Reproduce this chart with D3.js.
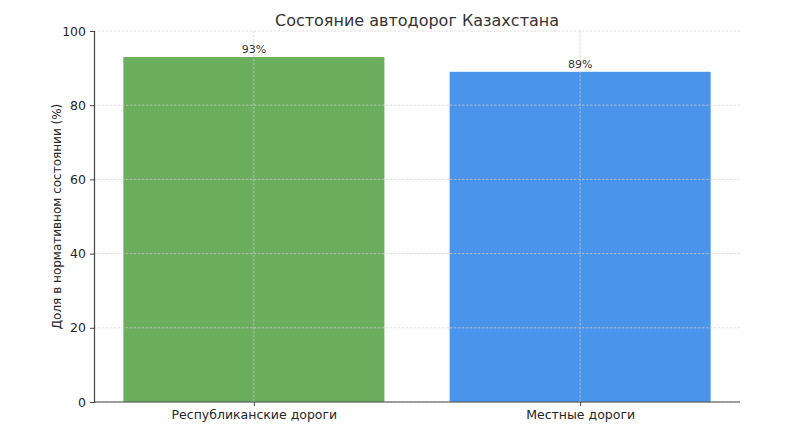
<!DOCTYPE html>
<html>
<head>
<meta charset="utf-8">
<script src="https://cdn.jsdelivr.net/npm/d3@7"></script>
<style>
  body { margin: 0; background: #fff; }
  text { font-family: "DejaVu Sans", sans-serif; }
</style>
</head>
<body>
<svg></svg>
<script>
const width = 800;
const height = 431;
const margin = {top: 31, right: 60, bottom: 29, left: 94};

const categories = ['Республиканские дороги', 'Местные дороги'];
const shares = [93, 89];
const barColors = ['#6aae5e', '#4a95eb'];
const yTicks = [0, 20, 40, 60, 80, 100];

const svg = d3.select('svg').attr('width', width).attr('height', height);
const plotW = width - margin.left - margin.right;
const plotH = height - margin.top - margin.bottom;
const g = svg.append('g').attr('transform', 'translate(' + margin.left + ',' + margin.top + ')');

// matplotlib-like: bars at integer positions, width 0.8, 5% margins
const x = d3.scaleLinear().domain([-0.49, categories.length - 1 + 0.49]).range([0, plotW]);
const y = d3.scaleLinear().domain([0, 100]).range([plotH, 0]);

g.selectAll('.bar')
  .data(shares)
  .enter().append('rect')
  .attr('class', 'bar')
  .attr('x', (d, i) => x(i - 0.4))
  .attr('width', x(0.4) - x(-0.4))
  .attr('y', d => y(d))
  .attr('height', d => plotH - y(d))
  .attr('fill', (d, i) => barColors[i]);

// grid sits above the bars
const grid = g.append('g').attr('class', 'grid');
grid.selectAll('.hgrid')
  .data(yTicks)
  .enter().append('line')
  .attr('x1', 0).attr('x2', plotW)
  .attr('y1', d => y(d)).attr('y2', d => y(d))
  .style('stroke', '#cfcfcf').style('stroke-width', 0.7).style('stroke-dasharray', '2.5,1.5');
grid.selectAll('.vgrid')
  .data(categories)
  .enter().append('line')
  .attr('x1', (d, i) => x(i)).attr('x2', (d, i) => x(i))
  .attr('y1', 0).attr('y2', plotH)
  .style('stroke', '#cfcfcf').style('stroke-width', 0.7).style('stroke-dasharray', '2.5,1.5');

g.selectAll('.val')
  .data(shares)
  .enter().append('text')
  .attr('x', (d, i) => x(i))
  .attr('y', d => y(d) - 4)
  .attr('text-anchor', 'middle')
  .style('font-size', '11px')
  .style('fill', '#333')
  .text(d => d + '%');

// axes
const yAxis = g.append('g').call(d3.axisLeft(y).tickValues(yTicks).tickSize(4).tickPadding(4));
const xAxis = g.append('g').attr('transform', 'translate(0,' + plotH + ')')
  .call(d3.axisBottom(x).tickValues(d3.range(categories.length)).tickFormat(i => categories[i]).tickSize(4).tickPadding(4));
[yAxis, xAxis].forEach(ax => {
  ax.select('.domain').style('stroke', '#444').style('stroke-width', 1.2);
  ax.selectAll('.tick line').style('stroke', '#444');
  ax.selectAll('.tick text').style('font-size', '12.5px').style('fill', '#262626').style('font-family', '"DejaVu Sans", sans-serif');
});
xAxis.select('.domain').attr('d', 'M0,0H' + plotW);

svg.append('text')
  .attr('x', margin.left + plotW / 2)
  .attr('y', 26)
  .attr('text-anchor', 'middle')
  .style('font-size', '16px')
  .style('fill', '#333')
  .text('Состояние автодорог Казахстана');

svg.append('text')
  .attr('transform', 'translate(61,' + (margin.top + plotH / 2) + ') rotate(-90)')
  .attr('text-anchor', 'middle')
  .style('font-size', '12px')
  .style('fill', '#262626')
  .text('Доля в нормативном состоянии (%)');
</script>
</body>
</html>
